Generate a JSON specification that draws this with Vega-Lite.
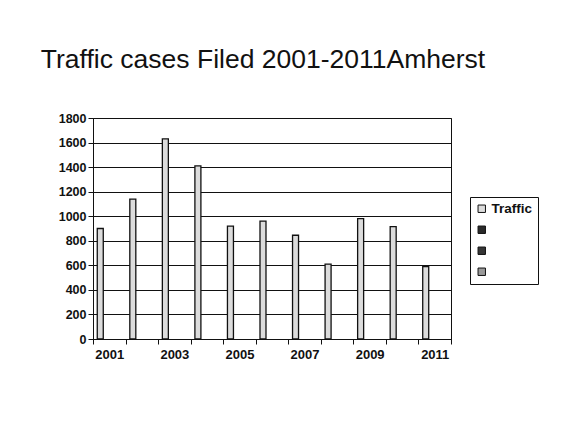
{
  "$schema": "https://vega.github.io/schema/vega-lite/v6.json",
  "autosize": "none",
  "width": 358,
  "height": 221,
  "padding": {"left": 93, "top": 118, "right": 115, "bottom": 87},
  "background": "white",
  "title": {
    "text": "Traffic cases Filed 2001-2011Amherst",
    "font": "Liberation Sans",
    "fontSize": 26.5,
    "fontWeight": "normal",
    "color": "#111",
    "anchor": "middle",
    "dx": -9,
    "offset": 39
  },
  "data": {
    "values": [
      {"year": "2001", "series": "Traffic", "cases": 900},
      {"year": "2002", "series": "Traffic", "cases": 1140},
      {"year": "2003", "series": "Traffic", "cases": 1630},
      {"year": "2004", "series": "Traffic", "cases": 1410},
      {"year": "2005", "series": "Traffic", "cases": 920},
      {"year": "2006", "series": "Traffic", "cases": 960},
      {"year": "2007", "series": "Traffic", "cases": 845},
      {"year": "2008", "series": "Traffic", "cases": 610},
      {"year": "2009", "series": "Traffic", "cases": 980},
      {"year": "2010", "series": "Traffic", "cases": 915},
      {"year": "2011", "series": "Traffic", "cases": 590}
    ]
  },
  "mark": {"type": "bar", "stroke": "#111", "strokeWidth": 1.3},
  "encoding": {
    "x": {
      "field": "year",
      "type": "ordinal",
      "scale": {"paddingInner": 0, "paddingOuter": 0},
      "axis": {
        "title": null,
        "labelAngle": 0,
        "labelFlush": false,
        "labelExpr": "toNumber(datum.value) % 2 == 1 ? datum.value : ''",
        "tickBand": "extent",
        "tickSize": 5,
        "labelPadding": 4,
        "labelFontSize": 13
      }
    },
    "xOffset": {
      "field": "series",
      "scale": {
        "domain": ["Traffic", "Series 2", "Series 3", "Series 4"],
        "paddingInner": 0,
        "paddingOuter": 0.71
      }
    },
    "y": {
      "field": "cases",
      "type": "quantitative",
      "scale": {"domain": [0, 1800], "nice": false},
      "axis": {
        "title": null,
        "format": "d",
        "values": [0, 200, 400, 600, 800, 1000, 1200, 1400, 1600, 1800],
        "grid": true,
        "gridColor": "#111",
        "gridOpacity": 1,
        "tickSize": 5,
        "labelPadding": 2,
        "labelFontSize": 12.5
      }
    },
    "color": {
      "field": "series",
      "type": "nominal",
      "scale": {
        "domain": ["Traffic", "Series 2", "Series 3", "Series 4"],
        "range": ["#dcdcdc", "#2a2a2a", "#363636", "#9a9a9a"]
      },
      "legend": {
        "title": null,
        "orient": "none",
        "legendX": 377,
        "legendY": 79,
        "labelExpr": "datum.label == 'Traffic' ? 'Traffic' : ''",
        "symbolType": "square",
        "symbolSize": 55,
        "symbolStrokeColor": "#111",
        "symbolStrokeWidth": 1,
        "strokeColor": "#111",
        "padding": 5,
        "rowPadding": 6,
        "labelOffset": 3,
        "labelFont": "Liberation Sans",
        "labelFontWeight": "bold",
        "labelFontSize": 13.5,
        "labelColor": "#111"
      }
    }
  },
  "config": {
    "view": {"stroke": "#111", "strokeWidth": 1},
    "axis": {
      "domainColor": "#111",
      "tickColor": "#111",
      "labelFont": "Liberation Sans",
      "labelFontWeight": "bold",
      "labelFontSize": 12,
      "labelColor": "#111"
    }
  }
}
